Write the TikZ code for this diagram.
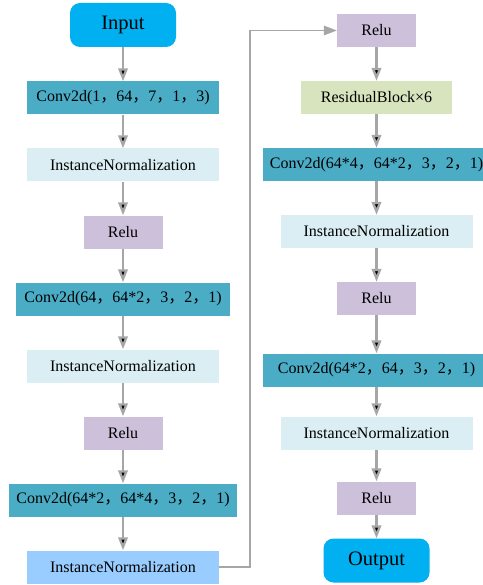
\documentclass[tikz,border=0pt]{standalone}
\usepackage{fontspec}
\setmainfont{Liberation Serif}
\newfontfamily\cjk{Noto Sans CJK SC}
\usetikzlibrary{calc}
\usetikzlibrary{positioning}
\usetikzlibrary{arrows.meta}
\definecolor{inout}{HTML}{00B0F0}
\definecolor{conv}{HTML}{4BACC6}
\definecolor{norm}{HTML}{DAEEF3}
\definecolor{normhi}{HTML}{99CCFF}
\definecolor{relu}{HTML}{CCC0DA}
\definecolor{resb}{HTML}{D7E4BD}
\definecolor{link}{HTML}{A6A6A6}
\newcommand{\zc}{{\cjk ，}}

\begin{document}
\begin{tikzpicture}[->, >={Triangle[length=13pt,width=9.5pt]}, node distance=67pt]
    \tikzstyle{layer}=[draw=none,minimum height=33pt,inner sep=0pt,text=black,font=\fontsize{16}{19}\selectfont]
    \tikzstyle{io}=[layer,fill=inout,rounded corners=10pt,minimum width=106pt,minimum height=44pt,font=\fontsize{20.5}{24}\selectfont]
    \tikzstyle{convbox}=[layer,fill=conv]
    \tikzstyle{normbox}=[layer,fill=norm,minimum width=192pt]
    \tikzstyle{relubox}=[layer,fill=relu,minimum width=79pt]
    \useasboundingbox (0,0) rectangle (482pt,-585pt);
    % left column
    \node[io]       (in)  at (123pt,-25pt)        {Input};
    \node[convbox, minimum width=192pt]  (c1)[below of=in, yshift=-6pt]  {Conv2d(1\zc 64\zc 7\zc 1\zc 3)};
    \node[normbox]  (n1)[below of=c1]   {InstanceNormalization};
    \node[relubox]  (r1)[below of=n1]   {Relu};
    \node[convbox, minimum width=214pt]  (c2)[below of=r1]  {Conv2d(64\zc 64*2\zc 3\zc 2\zc 1)};
    \node[normbox]  (n2)[below of=c2]   {InstanceNormalization};
    \node[relubox]  (r2)[below of=n2]   {Relu};
    \node[convbox, minimum width=228pt]  (c3)[below of=r2]  {Conv2d(64*2\zc 64*4\zc 3\zc 2\zc 1)};
    \node[normbox, fill=normhi]  (n3)[below of=c3]   {InstanceNormalization};
    % right column
    \node[relubox]  (r3)  at (376.5pt,-30.5pt)    {Relu};
    \node[layer, fill=resb, minimum width=151pt]  (rb)[below of=r3]  {ResidualBlock×6};
    \node[convbox, minimum width=228pt]  (c4)[below of=rb]  {Conv2d(64*4\zc 64*2\zc 3\zc 2\zc 1)};
    \node[normbox]  (n4)[below of=c4]   {InstanceNormalization};
    \node[relubox]  (r4)[below of=n4]   {Relu};
    \node[convbox, minimum width=228pt]  (c5)[below of=r4, yshift=-4.5pt]  {Conv2d(64*2\zc 64\zc 3\zc 2\zc 1)};
    \node[normbox]  (n5)[below of=c5, yshift=4pt]   {InstanceNormalization};
    \node[relubox]  (r5)[below of=n5, yshift=2pt]   {Relu};
    \node[io]       (out)[below of=r5, yshift=4.5pt] {Output};
    \coordinate (back) at ($(n3.east)+(31pt,0)$);
    \path[draw=link, line width=2.3pt]
    (in) edge (c1)
    (c1) edge (n1)
    (n1) edge (r1)
    (r1) edge (c2)
    (c2) edge (n2)
    (n2) edge (r2)
    (r2) edge (c3)
    (c3) edge (n3)
    (r3) edge (rb)
    (rb) edge (c4)
    (c4) edge (n4)
    (n4) edge (r4)
    (r4) edge (c5)
    (c5) edge (n5)
    (n5) edge (r5)
    (r5) edge (out);
    \draw[link, line width=1.5pt] (n3.east) -- (back) |- (r3.west);
\end{tikzpicture}
\end{document}
